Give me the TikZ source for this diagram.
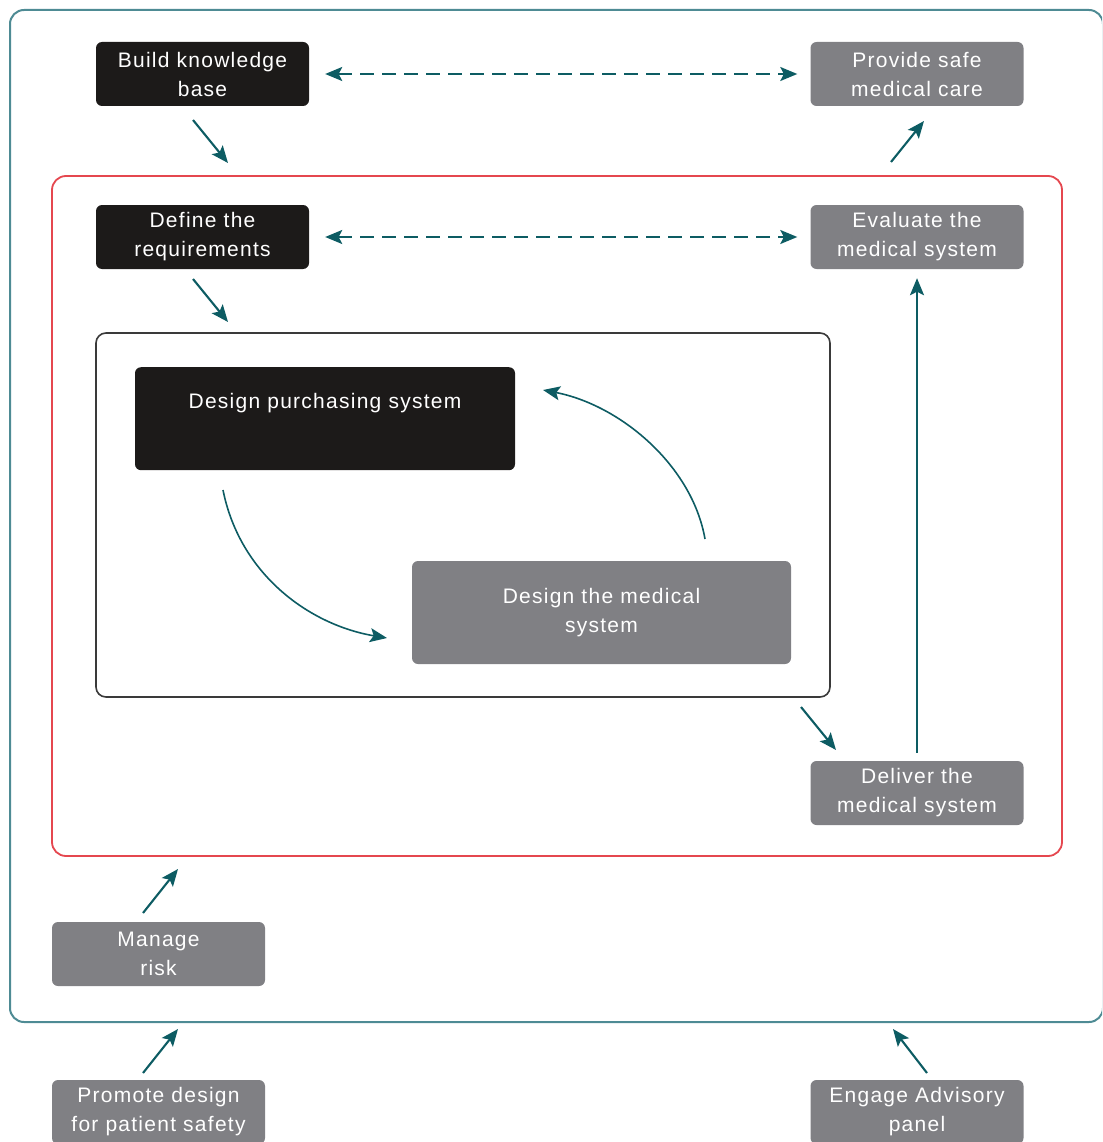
\documentclass[tikz,border=0pt]{standalone}
\usepackage{fontspec}
\setmainfont{Liberation Sans}[LetterSpace=6]
\usetikzlibrary{arrows.meta}
\definecolor{boxblack}{HTML}{1C1A19}
\definecolor{boxgrey}{HTML}{808084}
\definecolor{flow}{HTML}{0D5C63}
\definecolor{outerline}{HTML}{4E8B94}
\definecolor{redline}{HTML}{E5474F}
\definecolor{innerline}{HTML}{3A3A3A}
\begin{document}
\begin{tikzpicture}[x=1pt,y=-1pt,
  every node/.style={font=\fontsize{21}{29}\selectfont, text=white, align=center},
  darkbox/.style={fill=boxblack, rounded corners=6pt, inner sep=0pt},
  greybox/.style={fill=boxgrey, rounded corners=6pt, inner sep=0pt},
  smallbox/.style={minimum width=213pt, minimum height=64pt},
  widebox/.style={minimum width=380pt, minimum height=103pt},
  tip/.style={-{Stealth[length=17pt,width=14pt,inset=3.5pt]}},
  flowarrow/.style={draw=flow, line width=2.1pt, tip},
  dasharrow/.style={draw=flow, line width=1.8pt, dash pattern=on 14pt off 8pt,
    {Stealth[length=17pt,width=14pt,inset=3.5pt]}-{Stealth[length=17pt,width=14pt,inset=3.5pt]}}
]
\useasboundingbox (0,0) rectangle (1102,1142);
\clip (0,0) rectangle (1102,1142);

% frames
\draw[outerline, line width=2pt, rounded corners=14pt] (10,10) rectangle (1103,1022);
\draw[redline, line width=1.8pt, rounded corners=14pt] (52,176) rectangle (1062,856);
\draw[innerline, line width=1.6pt, rounded corners=10pt] (96,333) rectangle (830,697);

% boxes
\node[darkbox, smallbox] (build) at (202.5,74) {Build knowledge\\base};
\node[greybox, smallbox] (provide) at (917,74) {Provide safe\\medical care};
\node[darkbox, smallbox] (define) at (202.5,237) {Define the\\requirements};
\node[greybox, smallbox] (evaluate) at (917,237) {Evaluate the\\medical system};
\node[darkbox, minimum width=380pt, text height=41pt, text depth=62pt, anchor=north] (purchase) at (325,367) {Design purchasing system};
\node[greybox, widebox, minimum width=379pt] (medical) at (601.5,612.5) {Design the medical\\system};
\node[greybox, smallbox] (deliver) at (917,793) {Deliver the\\medical system};
\node[greybox, smallbox] (risk) at (158.5,954) {Manage\\risk};
\node[greybox, smallbox] (promote) at (158.5,1112) {Promote design\\for patient safety};
\node[greybox, smallbox] (panel) at (917,1112) {Engage Advisory\\panel};

% two-way links
\draw[dasharrow, shorten <=16pt, shorten >=13pt] (build.east) -- (provide.west);
\draw[dasharrow, shorten <=16pt, shorten >=13pt] (define.east) -- (evaluate.west);

% short pointers
\coordinate (b1) at (193,120); \coordinate (b2) at (228,163);
\coordinate (p1) at (891,162); \coordinate (p2) at (924,121);
\coordinate (d1) at (193,279); \coordinate (d2) at (228,322);
\coordinate (i1) at (801,707); \coordinate (i2) at (836,750);
\coordinate (r1) at (143,913); \coordinate (r2) at (178,869);
\coordinate (s1) at (143,1073); \coordinate (s2) at (178,1029);
\coordinate (e1) at (927,1073); \coordinate (e2) at (893,1029);
\draw[flowarrow] (b1) -- (b2);
\draw[flowarrow] (p1) -- (p2);
\draw[flowarrow] (d1) -- (d2);
\draw[flowarrow] (i1) -- (i2);
\draw[flowarrow] (r1) -- (r2);
\draw[flowarrow] (s1) -- (s2);
\draw[flowarrow] (e1) -- (e2);

% delivery feeds evaluation
\draw[flowarrow, shorten <=8pt, shorten >=9pt] (deliver.north) -- (evaluate.south);

% design cycle
\coordinate (c1) at (223,490); \coordinate (c2) at (387,638);
\coordinate (c3) at (705,539); \coordinate (c4) at (543,390);
\draw[flowarrow, line width=1.6pt] (c1) .. controls (240,575) and (310,625) .. (c2);
\draw[flowarrow, line width=1.6pt] (c3) .. controls (692,465) and (620,405) .. (c4);
\end{tikzpicture}
\end{document}
